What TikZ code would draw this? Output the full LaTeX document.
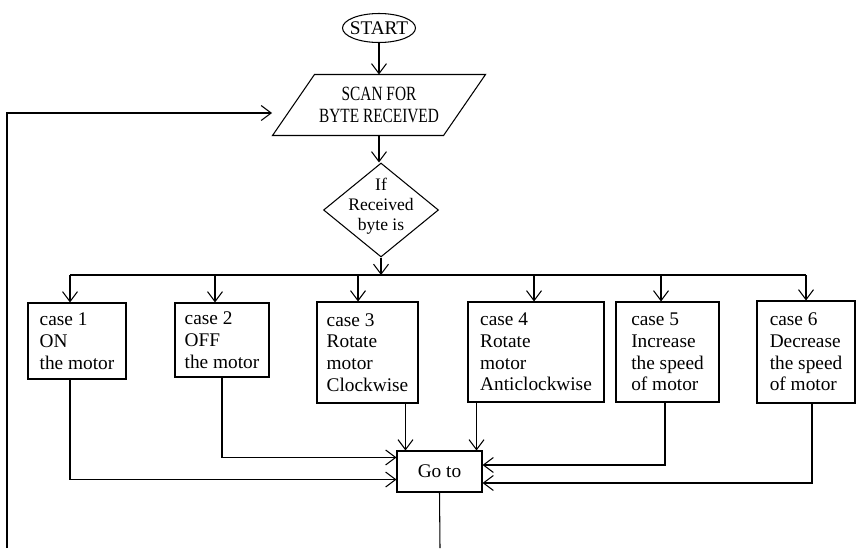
\documentclass[tikz,border=0pt]{standalone}
\usepackage{fontspec}
\setmainfont{Liberation Serif}
\newfontfamily\narrowserif[FakeStretch=0.76]{Liberation Serif}
\usepackage{tikz}
\usetikzlibrary{positioning, arrows.meta, shapes.geometric, calc}
\tikzset{
    arr/.style={-{Straight Barb[length=2mm,width=3mm]}},
    casebox/.style={draw, rectangle, align=left, inner sep=0pt},
}

\begin{document}
\begin{tikzpicture}[x=0.02cm, y=-0.02cm, line width=0.6pt, font=\fontsize{11}{12.4}\selectfont]
    \useasboundingbox (0,0) rectangle (857,548);

    % start, scan and the decision
    \node[draw, ellipse, inner xsep=-4pt, inner ysep=0pt, minimum width=1.46cm, minimum height=0.58cm] (start) at (379,28) {START};
    \node[inner sep=0pt, minimum width=4.24cm, minimum height=1.2cm, align=center,
        font=\narrowserif\fontsize{11.5}{12.4}\selectfont] (scan) at (379,105) {SCAN FOR\\BYTE RECEIVED};
    \draw (scan.south west) -- ([xshift=0.84cm]scan.north west) -- (scan.north east) -- ([xshift=-0.84cm]scan.south east) -- cycle;
    \node[draw, diamond, inner sep=0pt, minimum width=2.3cm, minimum height=1.88cm] (cond) at (381,210) {};
    \node[align=center, font=\fontsize{10}{11.3}\selectfont] (condtext) at (381,206) {If\\Received\\byte is};

    \draw[arr] (start) -- (scan);
    \draw[arr] (scan.south) -- (scan.south |- cond.north);

    % bus
    \coordinate (bus) at (0,275);
    \draw[arr] (cond.south) -- (cond.south |- bus);

    % case boxes
    \foreach \n/\cx/\cy/\w/\h/\txt in {
        c1/77/341/1.96cm/1.52cm/{case 1\\ON\\the motor},
        c2/222/340/1.88cm/1.48cm/{case 2\\OFF\\the motor},
        c3/367.5/352.5/2.02cm/2.02cm/{case 3\\Rotate\\motor\\Clockwise},
        c4/536/352/2.72cm/2.0cm/{case 4\\Rotate\\motor\\Anticlockwise},
        c5/667.5/352/2.06cm/2.0cm/{case 5\\Increase\\the speed\\of motor},
        c6/806/352/1.96cm/2.04cm/{case 6\\Decrease\\the speed\\of motor}}{

        \node[casebox, minimum width=\w, minimum height=\h] (\n) at (\cx,\cy) {\txt};
    }

    % drops from the bus
    \foreach \n/\dx in {c1/-0.14cm, c2/-0.14cm, c3/-0.19cm, c4/-0.04cm, c5/-0.13cm, c6/0cm}{
        \coordinate (d\n) at ([xshift=\dx]\n.north);
        \draw[arr] (d\n |- bus) -- (d\n);
    }
    \draw (dc1 |- bus) -- (dc6 |- bus);

    % go to
    \node[casebox, minimum width=1.7cm, minimum height=0.82cm] (goto) at (439.5,471.5) {Go to};
    \coordinate (g1) at ([yshift=0.26cm]goto.south west);
    \coordinate (g2) at ([yshift=-0.14cm]goto.north west);
    \coordinate (g3) at ([xshift=0.18cm]goto.north west);
    \coordinate (g4) at ([xshift=-0.12cm]goto.north east);
    \coordinate (g5) at ([yshift=0.13cm]goto.east);
    \coordinate (g6) at ([yshift=-0.23cm]goto.east);

    \draw[arr] (dc1 |- c1.south) |- (g1);
    \draw[arr] (c2.south) |- (g2);
    \draw[arr] (g3 |- c3.south) -- (g3);
    \draw[arr] (g4 |- c4.south) -- (g4);
    \draw[arr] ([xshift=-0.05cm]c5.south) |- (g5);
    \draw[arr] ([xshift=0.12cm]c6.south) |- (g6);

    % loop back
    \coordinate (loopbot) at (7,548);
    \coordinate (scanin) at (272,113);
    \coordinate (gobot) at (440,548);
    \draw[arr] (loopbot) |- (scanin);
    \draw (goto.south) -- (gobot);
\end{tikzpicture}
\end{document}
